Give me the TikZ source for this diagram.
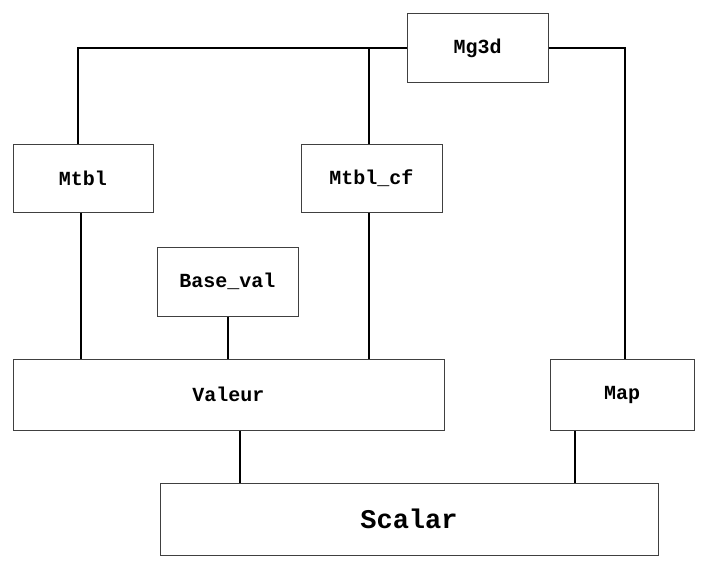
\documentclass[tikz,border=0pt]{standalone}
\usepackage{fontspec}
\setmonofont{Liberation Mono}
\usepackage{tikz}
\usetikzlibrary{positioning}
\colorlet{box gray}{black!75}

\begin{document}
\begin{tikzpicture}[x=1pt,y=-1pt,
		classbox/.style={draw=box gray, line width=1pt, rectangle, inner sep=0pt,
			font=\ttfamily\bfseries\fontsize{20}{24}\selectfont},
		link/.style={line width=2pt}]
			\useasboundingbox (0,0) rectangle (712,578);
			\node[classbox, minimum width=141, minimum height=68] (mg3d) at (477.5, 48){Mg3d};
			\node[classbox, minimum width=140, minimum height=68] (mtbl) at (83, 178){Mtbl};
			\node[classbox, minimum width=141, minimum height=68] (mtblcf) at (371.5, 178){Mtbl\_cf};
			\node[classbox, minimum width=141, minimum height=69] (baseval) at (227.5, 281.5){Base\_val};
			\node[classbox, minimum width=431, minimum height=71] (valeur) at (228.5, 394.5){Valeur};
			\node[classbox, minimum width=144, minimum height=71] (map) at (622, 394.5){Map};
			\node[classbox, minimum width=498, minimum height=72,
				font=\ttfamily\bfseries\fontsize{27}{31}\selectfont] (scalar) at (409, 519){Scalar};
			\draw[link] ([xshift=-5]mtbl.north) |- (mg3d.west);
			\draw[link] ([xshift=-2.5]mtblcf.north) -- ([xshift=-2.5]mtblcf.north |- mg3d.west);
			\draw[link] (mg3d.east) -| ([xshift=3]map.north);
			\draw[link] ([xshift=-2]mtbl.south) -- ([xshift=-2]mtbl.south |- valeur.north);
			\draw[link] ([xshift=0.5]baseval.south) -- ([xshift=0.5]baseval.south |- valeur.north);
			\draw[link] ([xshift=-2.5]mtblcf.south) -- ([xshift=-2.5]mtblcf.south |- valeur.north);
			\draw[link] ([xshift=11.5]valeur.south) -- ([xshift=11.5]valeur.south |- scalar.north);
			\draw[link] ([xshift=25]map.south west) -- ([xshift=25]map.south west |- scalar.north);
		\end{tikzpicture}
\end{document}
